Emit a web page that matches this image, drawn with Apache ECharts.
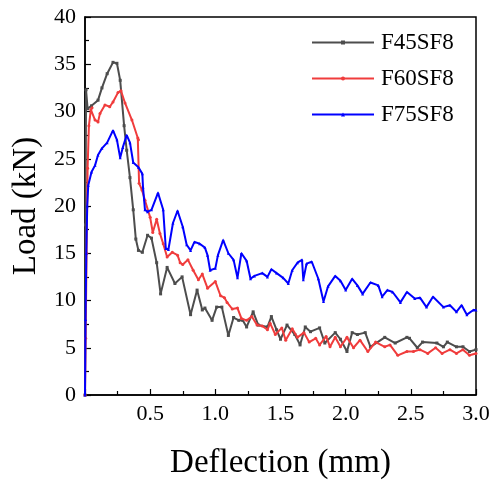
<!DOCTYPE html>
<html>
<head>
<meta charset="utf-8">
<script src="https://cdn.jsdelivr.net/npm/echarts@6/dist/echarts.min.js"></script>
<style>html,body{margin:0;padding:0;background:#fff}#c{width:491px;height:482px}</style>
</head>
<body>
<div id="c"></div>
<script>
const seriesNames = ['F45SF8', 'F60SF8', 'F75SF8'];
const xTicks = [0, 0.5, 1.0, 1.5, 2.0, 2.5, 3.0];
const yTicks = [0, 5, 10, 15, 20, 25, 30, 35, 40];

const f45 = [[0,0],[0.004,18],[0.008,32.3],[0.02,30.3],[0.05,30.6],[0.1,31.2],[0.13,32.5],[0.17,34],[0.215,35.2],[0.245,35.1],[0.27,33.3],[0.3,28.5],[0.32,25.9],[0.345,23],[0.37,19.6],[0.39,16.5],[0.41,15.3],[0.44,15.1],[0.48,16.9],[0.51,16.6],[0.55,14],[0.58,10.7],[0.63,13.5],[0.69,11.8],[0.745,12.5],[0.81,8.5],[0.86,11.1],[0.9,9],[0.92,9.2],[0.975,7.9],[1.01,9.3],[1.05,9.3],[1.1,6.3],[1.14,8.2],[1.18,7.9],[1.21,7.9],[1.24,7.2],[1.29,8.8],[1.33,7.4],[1.40,7.2],[1.43,8.3],[1.47,6.9],[1.50,5.9],[1.55,7.4],[1.61,6.4],[1.65,5.3],[1.69,7.2],[1.73,6.7],[1.80,7.1],[1.84,5.5],[1.92,6.6],[1.96,5.9],[2.01,4.6],[2.05,6.6],[2.09,6.4],[2.15,6.6],[2.19,5.1],[2.30,6.1],[2.38,5.5],[2.47,6.1],[2.49,6.0],[2.55,5.0],[2.59,5.6],[2.70,5.5],[2.75,5.1],[2.78,5.6],[2.85,5.1],[2.90,5.1],[2.95,4.6],[3.0,4.8]];

const f60 = [[0,0],[0.005,6],[0.012,15],[0.02,24],[0.03,28.5],[0.045,30.2],[0.054,30.4],[0.077,29.1],[0.1,28.9],[0.115,29.8],[0.153,30.7],[0.19,30.5],[0.215,31],[0.253,32],[0.276,32.2],[0.307,30.9],[0.36,29.1],[0.405,27.2],[0.41,27],[0.415,22.4],[0.437,21.7],[0.46,20.6],[0.5,18.8],[0.52,17.2],[0.55,18.6],[0.575,17.1],[0.6,16],[0.63,14.6],[0.67,15.1],[0.71,14.8],[0.73,14],[0.75,13.8],[0.79,14.3],[0.83,13.2],[0.87,12.2],[0.9,12.8],[0.94,11.3],[1.0,12],[1.04,10.5],[1.07,10.3],[1.09,9.8],[1.13,9.1],[1.17,9.2],[1.2,8.1],[1.24,7.9],[1.28,8.3],[1.32,7.4],[1.36,7.3],[1.40,6.9],[1.42,7.6],[1.46,6.4],[1.51,7.1],[1.54,5.8],[1.59,7.0],[1.63,6.1],[1.68,6.6],[1.72,5.6],[1.77,6.0],[1.80,5.3],[1.85,6.2],[1.88,5.1],[1.92,6.1],[1.96,5.1],[2.01,6.1],[2.06,5.0],[2.11,5.8],[2.17,4.6],[2.23,5.6],[2.30,5.1],[2.34,5.3],[2.40,4.2],[2.47,4.6],[2.52,4.6],[2.57,4.8],[2.63,4.4],[2.69,5.0],[2.74,4.4],[2.80,4.8],[2.85,4.4],[2.90,4.8],[2.95,4.2],[3.0,4.4]];

const f75 = [[0,0],[0.004,8],[0.01,15],[0.017,20],[0.025,22.2],[0.05,23.6],[0.077,24.3],[0.1,25.4],[0.13,26.1],[0.17,26.7],[0.215,28],[0.245,27],[0.27,25.1],[0.29,26.2],[0.32,27.5],[0.345,26.7],[0.37,24.6],[0.41,24.1],[0.44,23.4],[0.445,22],[0.46,19.6],[0.48,19.4],[0.51,19.6],[0.56,21.4],[0.6,19.6],[0.62,15.5],[0.64,15.4],[0.675,18.2],[0.71,19.5],[0.75,17.8],[0.78,15.9],[0.81,15.3],[0.84,16.2],[0.88,16.0],[0.92,15.6],[0.94,14.8],[0.96,13.2],[1.0,13.4],[1.02,14.8],[1.06,16.4],[1.10,15],[1.14,14.3],[1.17,12.4],[1.20,15],[1.24,14.2],[1.27,12.3],[1.30,12.6],[1.36,12.9],[1.40,12.5],[1.43,13.3],[1.47,12.9],[1.52,12.4],[1.56,11.8],[1.59,13.2],[1.63,14.0],[1.665,14.3],[1.675,12.2],[1.70,13.9],[1.74,14.1],[1.79,12.3],[1.83,9.9],[1.865,11.5],[1.92,12.6],[1.96,12.1],[2.0,11.1],[2.05,12.3],[2.09,11.6],[2.13,10.7],[2.19,11.9],[2.25,11.6],[2.28,10.4],[2.32,11.1],[2.36,10.9],[2.42,9.8],[2.47,10.9],[2.53,10.2],[2.57,10.3],[2.62,9.3],[2.67,10.4],[2.75,9.3],[2.80,9.5],[2.85,8.8],[2.89,9.5],[2.93,8.5],[2.98,9.0],[3.0,9.0]];

const colors = ['#4d4d4d', '#f03c3c', '#0000ff'];
const symbols = ['rect', 'circle', 'triangle'];
const FONT = 'Liberation Serif';

const chart = echarts.init(document.getElementById('c'), null, {renderer: 'canvas'});
const mk = (i, data) => ({
  name: seriesNames[i], type: 'line', data: data,
  symbol: symbols[i], symbolSize: 3, showSymbol: true,
  lineStyle: {color: colors[i], width: 2},
  itemStyle: {color: colors[i]},
  animation: false, z: 3 + i
});
chart.setOption({
  animation: false,
  backgroundColor: '#fff',
  grid: {left: 85, right: 15, top: 17, bottom: 87, show: true, borderColor: '#000', borderWidth: 1.5,
    backgroundColor: 'transparent', containLabel: false, outerBoundsMode: 'none'},
  legend: {
    orient: 'vertical', left: 311, top: 31, padding: 0, itemGap: 13,
    itemWidth: 62, itemHeight: 5,
    textStyle: {fontFamily: FONT, fontSize: 23, color: '#000', padding: [0, 0, 0, 2]},
    data: seriesNames
  },
  xAxis: {
    type: 'value', min: xTicks[0], max: xTicks[xTicks.length - 1], interval: 0.5,
    name: 'Deflection (mm)', nameLocation: 'middle', nameGap: 52,
    nameTextStyle: {fontFamily: FONT, fontSize: 33, color: '#000'},
    axisLine: {lineStyle: {color: '#000', width: 1.5}},
    axisTick: {inside: true, length: 6, lineStyle: {color: '#000', width: 1.2}},
    minorTick: {show: true, splitNumber: 2, length: 4, lineStyle: {color: '#000', width: 1.2}},
    splitLine: {show: false},
    axisLabel: {fontFamily: FONT, fontSize: 22, color: '#000', margin: 8,
      formatter: v => (v === 0 ? '' : v.toFixed(1))}
  },
  yAxis: {
    type: 'value', min: yTicks[0], max: yTicks[yTicks.length - 1], interval: 5,
    name: 'Load (kN)', nameLocation: 'middle', nameGap: 42,
    nameTextStyle: {fontFamily: FONT, fontSize: 33, color: '#000'},
    axisLine: {show: true, lineStyle: {color: '#000', width: 1.5}},
    axisTick: {show: true, inside: true, length: 6, lineStyle: {color: '#000', width: 1.2}},
    minorTick: {show: true, splitNumber: 2, length: 4, lineStyle: {color: '#000', width: 1.2}},
    splitLine: {show: false},
    axisLabel: {fontFamily: FONT, fontSize: 22, color: '#000', margin: 9}
  },
  series: [mk(0, f45), mk(1, f60), mk(2, f75)]
});
</script>
</body>
</html>
